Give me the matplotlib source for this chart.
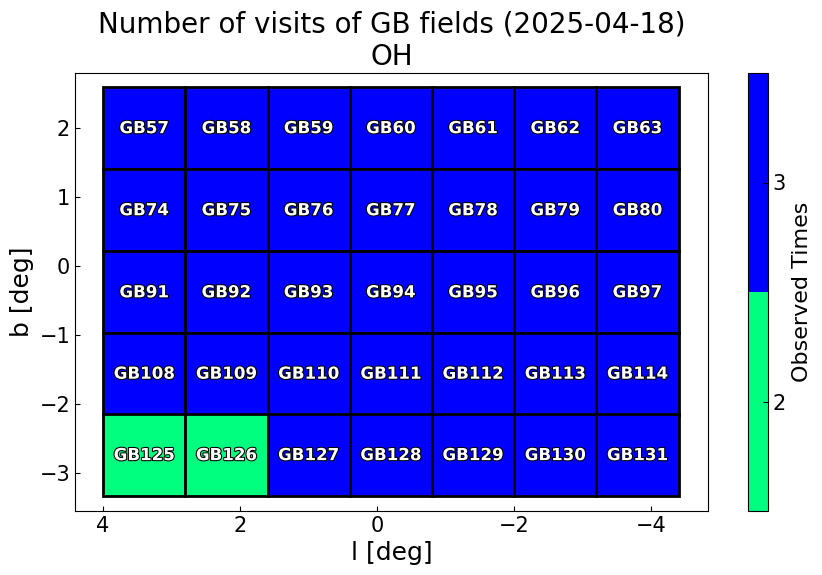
import numpy as np
import matplotlib.pyplot as plt
import matplotlib.patheffects as pe
from matplotlib.colors import ListedColormap, BoundaryNorm
from matplotlib.patches import Rectangle
from matplotlib.cm import ScalarMappable

# field centres (deg) and visit counts
l_centers = [3.4, 2.2, 1.0, -0.2, -1.4, -2.6, -3.8]
b_centers = [2.0, 0.81, -0.38, -1.56, -2.74]
field_ids = [[57, 58, 59, 60, 61, 62, 63],
             [74, 75, 76, 77, 78, 79, 80],
             [91, 92, 93, 94, 95, 96, 97],
             [108, 109, 110, 111, 112, 113, 114],
             [125, 126, 127, 128, 129, 130, 131]]
visits = [[3, 3, 3, 3, 3, 3, 3],
          [3, 3, 3, 3, 3, 3, 3],
          [3, 3, 3, 3, 3, 3, 3],
          [3, 3, 3, 3, 3, 3, 3],
          [2, 2, 3, 3, 3, 3, 3]]
cell_w = 1.2
cell_h = 1.186

cmap = ListedColormap(['springgreen', 'blue'])
norm = BoundaryNorm([1.5, 2.5, 3.5], cmap.N)

fig = plt.figure(figsize=(8.22, 5.75), dpi=100)
ax = fig.add_axes([75/822, 1 - 511/575, 633/822, 438/575])
cax = fig.add_axes([748/822, 1 - 511/575, 20/822, 438/575])

for i, b in enumerate(b_centers):
    for j, l in enumerate(l_centers):
        ax.add_patch(Rectangle((l - cell_w/2, b - cell_h/2), cell_w, cell_h,
                               facecolor=cmap(norm(visits[i][j])),
                               edgecolor='black', linewidth=2))
        ax.text(l, b, 'GB%d' % field_ids[i][j], ha='center', va='center',
                color='white', fontsize=12, fontweight='bold',
                path_effects=[pe.withStroke(linewidth=1.5, foreground='black')])

ax.set_xlim(4.41, -4.83)
ax.set_ylim(-3.55, 2.8)
ax.set_xticks([4, 2, 0, -2, -4])
ax.set_yticks([-3, -2, -1, 0, 1, 2])
ax.tick_params(direction='in', labelsize=15)
ax.set_xlabel('l [deg]', fontsize=18)
ax.set_ylabel('b [deg]', fontsize=18)
ax.set_title('Number of visits of GB fields (2025-04-18)\nOH', fontsize=20)

sm = ScalarMappable(norm=norm, cmap=cmap)
cb = fig.colorbar(sm, cax=cax, ticks=[2, 3])
cb.ax.minorticks_off()
cb.ax.tick_params(direction='in', labelsize=15)
cb.set_label('Observed Times', fontsize=16)

fig.savefig('out.png', dpi=100)
